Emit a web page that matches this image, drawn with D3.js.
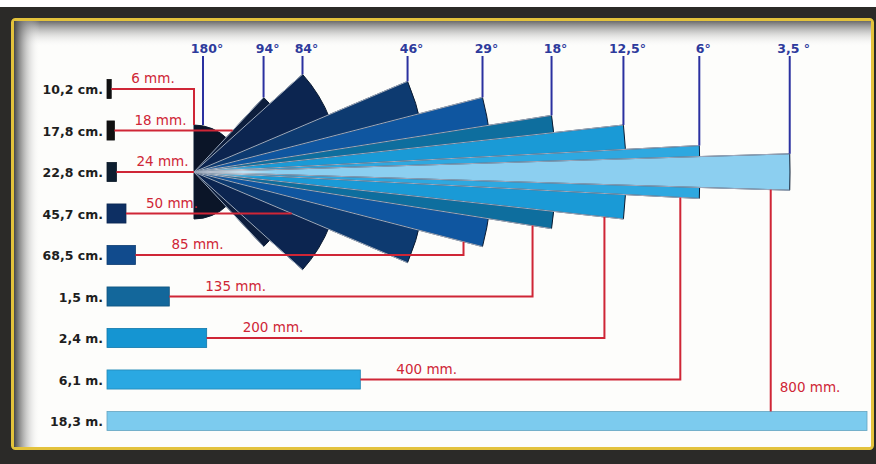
<!DOCTYPE html>
<html><head><meta charset="utf-8">
<script src="https://cdn.jsdelivr.net/npm/d3@7"></script>
<style>html,body{margin:0;padding:0;background:#fff;overflow:hidden}</style>
</head><body><svg id="c" width="876" height="464"></svg>
<script>
// ---- data ----
const distanceLabels = ["10,2 cm.","17,8 cm.","22,8 cm.","45,7 cm.","68,5 cm.","1,5 m.","2,4 m.","6,1 m.","18,3 m."];
const distanceMeters = [0.102,0.178,0.228,0.457,0.685,1.5,2.4,6.1,18.3];
const focalLabels = ["6 mm.","18 mm.","24 mm.","50 mm.","85 mm.","135 mm.","200 mm.","400 mm.","800 mm."];
const angleLabels = ["180°","94°","84°","46°","29°","18°","12,5°","6°","3,5 °"];
const angleDegrees = [180,94,84,46,29,18,12.5,6,3.5];

// ---- style / layout ----
const wedgeColors = ["#0b1528","#0d1e3d","#0c2550","#0d3a70","#0f56a0","#0e6e9e","#1a9ad6","#2ea8e0","#8ccff0"];
const barColors   = ["#111111","#111111","#0d1e30","#0d2f63","#114b8d","#13679b","#1595d2","#2aa8e2","#7ccbee"];
const RED = "#cf2636", BLUE = "#2b31a0";
const W = 876, H = 464;
const apex = {x:194, y:172};

const svg = d3.select("#c");
const defs = svg.append("defs");

// frame
svg.append("rect").attr("x",0).attr("y",7).attr("width",W).attr("height",H-7).attr("fill","#2b2a28");
svg.append("rect").attr("x",12.5).attr("y",19.5).attr("width",860).attr("height",429).attr("rx",3)
  .attr("fill","#fdfdfb").attr("stroke","#e3c23c").attr("stroke-width",3);
const gTop = defs.append("linearGradient").attr("id","gTop").attr("x1",0).attr("y1",0).attr("x2",0).attr("y2",1);
gTop.append("stop").attr("offset",0).attr("stop-color","#6a6a6a").attr("stop-opacity",1);
gTop.append("stop").attr("offset",1).attr("stop-color","#ffffff").attr("stop-opacity",0);
const gLeft = defs.append("linearGradient").attr("id","gLeft").attr("x1",0).attr("y1",0).attr("x2",1).attr("y2",0);
gLeft.append("stop").attr("offset",0).attr("stop-color","#474747").attr("stop-opacity",1);
gLeft.append("stop").attr("offset",1).attr("stop-color","#ffffff").attr("stop-opacity",0);
svg.append("rect").attr("x",14).attr("y",21).attr("width",857).attr("height",26).attr("fill","url(#gTop)");
svg.append("rect").attr("x",14).attr("y",21).attr("width",26).attr("height",426).attr("fill","url(#gLeft)");

// scales
const x = d3.scaleLinear().domain([0, 18.3]).range([107, 867]);
const y = d3.scaleBand().domain(distanceLabels).range([68.25, 441.75]).paddingInner(0.54).paddingOuter(0.27);
const reach = d3.scaleOrdinal().domain(angleLabels).range([47,102,146,232,298,362,432,506,596]);
const rad = d => d * Math.PI / 180;

// wedge geometry
const wedges = angleLabels.map((lab,i) => {
  const half = rad(angleDegrees[i]) / 2, r = reach(lab);
  return {i, lab, half, r,
    top:{x:apex.x + r*Math.cos(half), y:apex.y - r*Math.sin(half)},
    bot:{x:apex.x + r*Math.cos(half), y:apex.y + r*Math.sin(half)}};
});

// fan
const arc = d3.arc().innerRadius(0);
const fan = svg.append("g");
wedges.forEach(w => {
  const g = fan.append("g");
  g.append("path")
    .attr("transform",`translate(${apex.x},${apex.y})`)
    .attr("d", arc({outerRadius:w.r, startAngle:Math.PI/2 - w.half, endAngle:Math.PI/2 + w.half}))
    .attr("fill", wedgeColors[w.i]).attr("stroke","#0a1a30").attr("stroke-width",1);
  if (w.i > 0) {
    [w.top, w.bot].forEach(p => g.append("line")
      .attr("x1",apex.x).attr("y1",apex.y).attr("x2",p.x).attr("y2",p.y)
      .attr("stroke","#cfdcf0").attr("stroke-width",1).attr("stroke-opacity",0.75));
  }
});
// glow at apex
const gGlow = defs.append("radialGradient").attr("id","glow");
gGlow.append("stop").attr("offset",0).attr("stop-color","#ffffff").attr("stop-opacity",0.55);
gGlow.append("stop").attr("offset",1).attr("stop-color","#ffffff").attr("stop-opacity",0);
svg.append("ellipse").attr("cx",apex.x+40).attr("cy",apex.y).attr("rx",45).attr("ry",6).attr("fill","url(#glow)");

// bars
svg.append("g").selectAll("rect").data(distanceLabels).join("rect")
  .attr("x", x(0)).attr("y", d => y(d))
  .attr("width", (d,i) => x(distanceMeters[i]) - x(0))
  .attr("height", y.bandwidth())
  .attr("fill", (d,i) => barColors[i])
  .attr("stroke", (d,i) => d3.color(barColors[i]).darker(0.6)).attr("stroke-width",0.8);

// distance labels
svg.append("g").selectAll("text").data(distanceLabels).join("text")
  .attr("x", x(0) - 4).attr("y", d => y(d) + y.bandwidth()/2 + 5)
  .attr("text-anchor","end").attr("font-family","DejaVu Sans").attr("font-weight","bold")
  .attr("font-size",12.5).attr("fill","#1e1e1e").text(d => d);

// red connectors
const conn = svg.append("g").attr("fill","none").attr("stroke",RED).attr("stroke-width",2);
const cy = i => y(distanceLabels[i]) + y.bandwidth()/2;
const bx = i => x(distanceMeters[i]);
wedges.forEach(w => {
  const i = w.i, p = d3.path();
  const ly = cy(i);
  let lx, ty;
  if (i === 0) {
    p.moveTo(bx(i), ly); p.lineTo(apex.x, ly); p.lineTo(apex.x, apex.y - w.r);
  } else if (i < 4) {
    const dy = Math.abs(ly - apex.y);
    const ex = apex.x + dy / Math.tan(w.half);
    p.moveTo(bx(i), ly); p.lineTo(ex, ly);
  } else if (i < 8) {
    const vx = w.top.x - 19;
    const vy = apex.y + (vx - apex.x) * Math.tan(w.half);
    p.moveTo(bx(i), ly); p.lineTo(vx, ly); p.lineTo(vx, vy);
  } else {
    const vx = w.top.x - 19;
    const vy = apex.y + (vx - apex.x) * Math.tan(w.half);
    p.moveTo(vx, vy); p.lineTo(vx, y(distanceLabels[i]));
  }
  conn.append("path").attr("d", p.toString());
});

// red labels
svg.append("g").selectAll("text").data(focalLabels).join("text")
  .attr("x", (d,i) => i === 8 ? wedges[8].top.x - 10 : bx(i) + (i < 4 ? 20 : 36))
  .attr("y", (d,i) => i === 8 ? 392 : cy(i) - 6)
  .attr("font-family","DejaVu Sans").attr("font-size",13.5).attr("fill",RED).text(d => d);

// blue angle labels
const blue = svg.append("g");
wedges.forEach(w => {
  const px = w.i === 0 ? apex.x + 9 : w.top.x;
  const py = w.i === 0 ? apex.y - w.r : w.top.y;
  blue.append("line").attr("x1",px).attr("x2",px).attr("y1",56).attr("y2",py)
    .attr("stroke",BLUE).attr("stroke-width",2);
  blue.append("text").attr("x",px + 4).attr("y",53).attr("text-anchor","middle")
    .attr("font-family","DejaVu Sans").attr("font-weight","bold").attr("font-size",12.5)
    .attr("fill","#2d3a9c").text(w.lab);
});
</script></body></html>
